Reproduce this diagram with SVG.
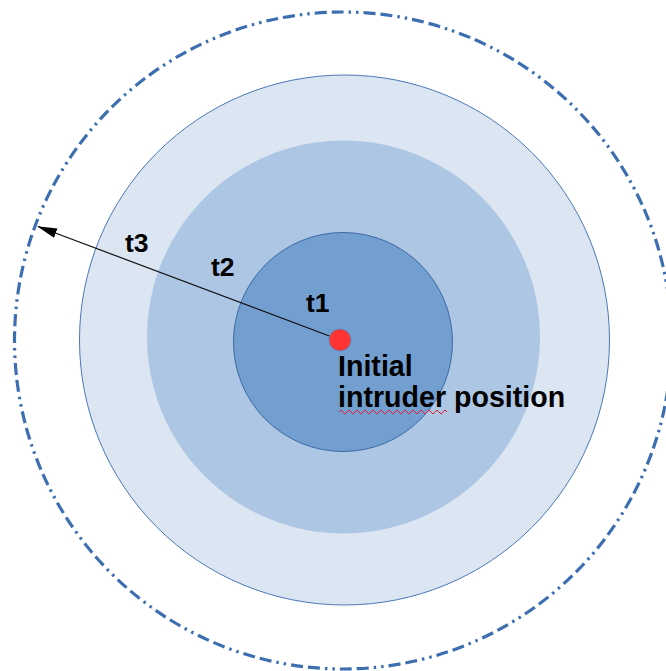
<svg xmlns="http://www.w3.org/2000/svg" width="666" height="671" viewBox="0 0 666 671">
<style>
.lbl{font-family:"Liberation Sans",Arial,sans-serif;font-weight:bold;fill:#000}
</style>
<defs>
<marker id="ah" markerWidth="20" markerHeight="12" refX="19" refY="5" orient="auto" markerUnits="userSpaceOnUse">
<path d="M0,0 L20,5 L0,10 Z" fill="#000"/>
</marker>
</defs>
<rect width="666" height="671" fill="#fff"/>
<g id="zone-t4">
<circle cx="343" cy="340.5" r="328.5" fill="none" stroke="#3c6eb0" stroke-width="3.2" stroke-dasharray="12 5 12 5 2.5 5 2.5 5"/>
</g>
<g id="zone-t3">
<circle cx="344.5" cy="340" r="265" fill="#dce6f2" stroke="#4a78b8" stroke-width="1"/>
</g>
<g id="zone-t2">
<circle cx="343.5" cy="337" r="196.5" fill="#adc6e3"/>
</g>
<g id="zone-t1">
<circle cx="343" cy="342" r="109.5" fill="#729fcf" stroke="#3d69a6" stroke-width="1"/>
</g>
<g id="connectors">
<line x1="340" y1="340" x2="38" y2="226.5" stroke="#111" stroke-width="1.2" marker-end="url(#ah)"/>
</g>
<g id="intruder">
<circle cx="340" cy="340" r="11" fill="#ff3333" stroke="#6a7db5" stroke-width="1"/>
<text class="lbl" x="338" y="376" font-size="28.6">Initial</text>
<text class="lbl" x="338" y="407" font-size="28.6">intruder position</text>
<path d="M339,412 l2,-2 l2,2 l2,2 l2,-2 l2,-2 l2,2 l2,2 l2,-2 l2,-2 l2,2 l2,2 l2,-2 l2,-2 l2,2 l2,2 l2,-2 l2,-2 l2,2 l2,2 l2,-2 l2,-2 l2,2 l2,2 l2,-2 l2,-2 l2,2 l2,2 l2,-2 l2,-2 l2,2 l2,2 l2,-2 l2,-2 l2,2 l2,2 l2,-2 l2,-2 l2,2 l2,2 l2,-2 l2,-2 l2,2 l2,2 l2,-2 l2,-2 l2,2 l2,2 l2,-2 l2,-2 l2,2 l2,2 l2,-2 l2,-2 l2,2" fill="none" stroke="#e0202a" stroke-width="1"/>
</g>
<g id="labels">
<text class="lbl" x="125" y="252" font-size="26.5">t3</text>
<text class="lbl" x="211" y="276" font-size="26.5">t2</text>
<text class="lbl" x="306" y="312" font-size="26.5">t1</text>
</g>
</svg>
